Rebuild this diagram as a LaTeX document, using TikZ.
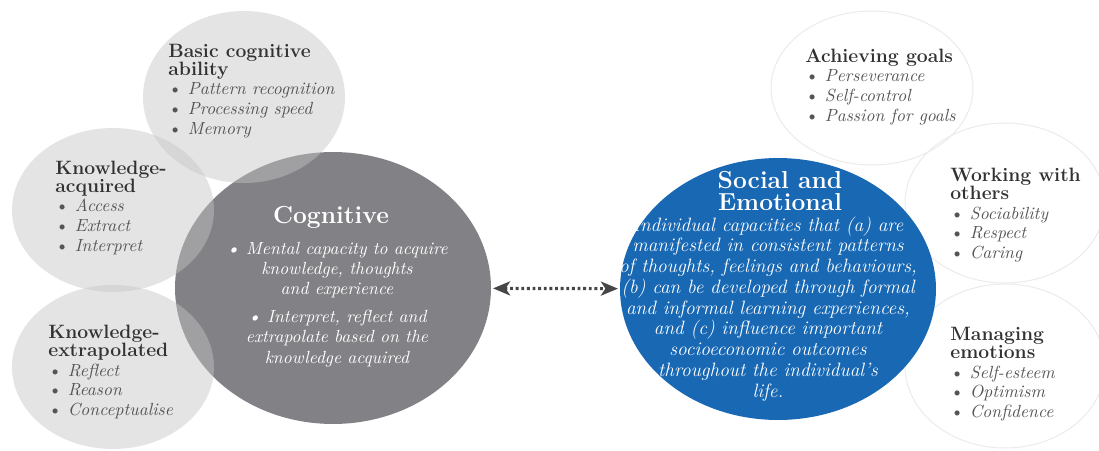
\documentclass[tikz,border=0pt]{standalone}
\usepackage{tikz}
\usetikzlibrary{arrows.meta,shapes.geometric}

\definecolor{cogGray}{RGB}{130,130,134}
\definecolor{subFill}{RGB}{197,197,197}
\definecolor{socBlue}{RGB}{24,104,180}
\definecolor{ringGray}{RGB}{236,236,236}
\definecolor{headGray}{RGB}{50,50,50}
\definecolor{itemGray}{RGB}{85,85,85}
\definecolor{arrowGray}{RGB}{70,70,72}

\newcommand{\blobhead}[1]{\textcolor{headGray}{\fontsize{11}{11}\selectfont\bfseries #1}}
\newcommand{\blobitem}[1]{\textbullet\ \textit{#1}}

\begin{document}
\begin{tikzpicture}[x=0.02cm,y=-0.02cm,
blob/.style={ellipse,inner sep=0pt},
subblob/.style={blob,fill=subFill,fill opacity=0.45},
ringblob/.style={blob,draw=ringGray,line width=0.6pt},
listtext/.style={anchor=base west,align=left,inner sep=0pt,text=itemGray,font=\fontsize{10}{11.1}\selectfont},
title/.style={anchor=base,align=center,inner sep=0pt,text=white,font=\fontsize{14}{12.5}\selectfont\bfseries},
body/.style={anchor=base,align=center,inner sep=0pt,text=white,font=\fontsize{10}{11.4}\selectfont\itshape},
arr/.style={{Stealth[length=3.4mm,width=2.8mm,inset=0.9mm]}-{Stealth[length=3.4mm,width=2.8mm,inset=0.9mm]},line width=1.8pt,dash pattern=on 1.6pt off 1.6pt,draw=arrowGray,shorten <=1pt,shorten >=1pt}]
\useasboundingbox[fill=white] (0,0) rectangle (1099,450);

% outline circles on the right
\node[ringblob,minimum width=4.04cm,minimum height=3.08cm] (goals) at (872,88) {};
\node[ringblob,minimum width=4.0cm,minimum height=3.2cm] (others) at (1005,203) {};
\node[ringblob,minimum width=4.0cm,minimum height=3.28cm] (emotions) at (1005,366) {};

% main ellipses
\node[blob,fill=cogGray,minimum width=6.32cm,minimum height=5.44cm] (cog) at (333,288) {};
\node[subblob,minimum width=4.04cm,minimum height=3.44cm] (basic) at (244,97) {};
\node[subblob,minimum width=4.04cm,minimum height=3.28cm] (acquired) at (113,210) {};
\node[subblob,minimum width=4.04cm,minimum height=3.28cm] (extrap) at (113,367) {};
\node[blob,fill=socBlue,minimum width=6.32cm,minimum height=5.24cm] (soc) at (778,289) {};

% texts (anchored at the last line)
\node[listtext] (basictxt) at (168,134) {\blobhead{Basic cognitive}\\[-0.9pt]\blobhead{ability}\\
\blobitem{Pattern recognition}\\\blobitem{Processing speed}\\\blobitem{Memory}};
\node[listtext] (acqtxt) at (55,251) {\blobhead{Knowledge-}\\[-0.9pt]\blobhead{acquired}\\
\blobitem{Access}\\\blobitem{Extract}\\\blobitem{Interpret}};
\node[listtext] (extxt) at (48,415) {\blobhead{Knowledge-}\\[-0.9pt]\blobhead{extrapolated}\\
\blobitem{Reflect}\\\blobitem{Reason}\\\blobitem{Conceptualise}};
\node[listtext] (goalstxt) at (805,121) {\blobhead{Achieving goals}\\
\blobitem{Perseverance}\\\blobitem{Self-control}\\\blobitem{Passion for goals}};
\node[listtext] (otherstxt) at (950,258) {\blobhead{Working with}\\[-0.9pt]\blobhead{others}\\
\blobitem{Sociability}\\\blobitem{Respect}\\\blobitem{Caring}};
\node[listtext] (emotxt) at (950,417) {\blobhead{Managing}\\[-0.9pt]\blobhead{emotions}\\
\blobitem{Self-esteem}\\\blobitem{Optimism}\\\blobitem{Confidence}};

\node[title] (cogtitle) at (331,223) {Cognitive};
\node[body] (cogbody) at (337,363) {\textbullet\ Mental capacity to acquire\\knowledge, thoughts\\and experience\\[4.6pt]
\textbullet\ Interpret, reflect and\\extrapolate based on the\\knowledge acquired};

\node[title] (soctitle) at (780,210) {Social and\\Emotional};
\node[body,font=\fontsize{11}{11.8}\selectfont\itshape] (socbody) at (768,397) {Individual capacities that (a) are\\
manifested in consistent patterns\\of thoughts, feelings and behaviours,\\(b) can be developed through formal\\
and informal learning experiences,\\and (c) influence important\\socioeconomic outcomes\\throughout the individual's\\life.};

\draw[arr] (cog) -- (soc);
\end{tikzpicture}
\end{document}
